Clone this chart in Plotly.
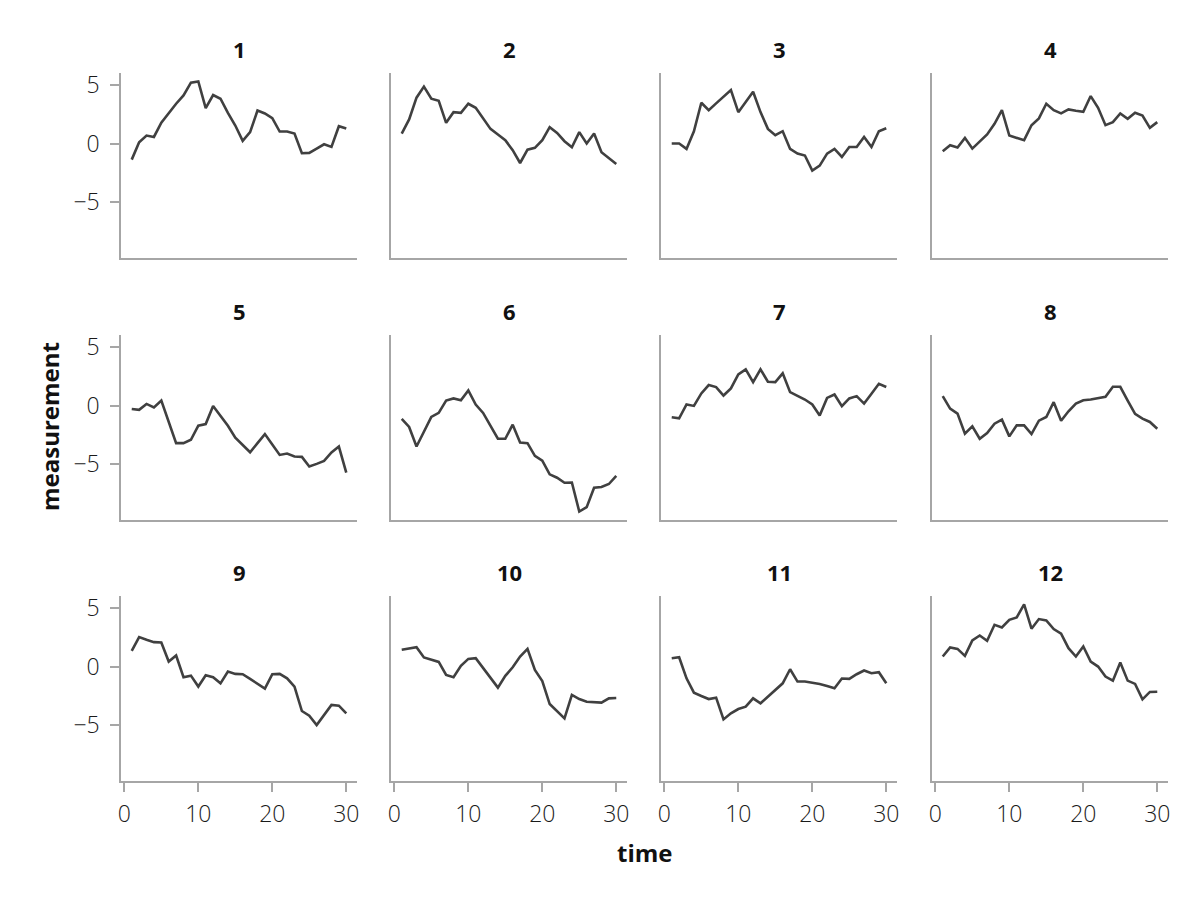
import plotly.graph_objects as go

time = list(range(1, 31))

s1 = [-1.38, 0.11, 0.69, 0.57, 1.8, 2.64, 3.42, 4.14, 5.23, 5.34, 3.05, 4.17, 3.85, 2.64, 1.55, 0.23, 0.98, 2.84, 2.59, 2.18, 1.03, 1.03, 0.86, -0.83, -0.80, -0.43, -0.06, -0.29, 1.49, 1.29]
s2 = [0.86, 2.07, 3.94, 4.89, 3.85, 3.68, 1.78, 2.70, 2.64, 3.42, 3.07, 2.21, 1.26, 0.78, 0.29, -0.57, -1.67, -0.52, -0.37, 0.29, 1.41, 0.92, 0.20, -0.32, 0.98, 0.0, 0.86, -0.75, -1.29, -1.75]
s3 = [0.0, 0.0, -0.46, 1.06, 3.51, 2.87, 3.45, 3.99, 4.60, 2.70, 3.59, 4.45, 2.70, 1.26, 0.72, 1.06, -0.46, -0.86, -1.03, -2.33, -1.90, -0.86, -0.46, -1.15, -0.29, -0.29, 0.57, -0.29, 1.06, 1.32]
s4 = [-0.66, -0.14, -0.34, 0.49, -0.43, 0.14, 0.78, 1.70, 2.87, 0.69, 0.49, 0.29, 1.58, 2.16, 3.42, 2.87, 2.59, 2.93, 2.82, 2.73, 4.08, 3.07, 1.58, 1.84, 2.59, 2.13, 2.64, 2.41, 1.35, 1.84]
s5 = [-0.29, -0.37, 0.14, -0.17, 0.43, -1.50, -3.23, -3.23, -2.94, -1.73, -1.59, -0.03, -0.92, -1.73, -2.77, -3.37, -4.01, -3.23, -2.45, -3.34, -4.24, -4.12, -4.38, -4.41, -5.24, -5.01, -4.76, -4.03, -3.52, -5.76]
s6 = [-1.15, -1.84, -3.52, -2.22, -0.98, -0.63, 0.43, 0.61, 0.46, 1.30, 0.09, -0.63, -1.73, -2.85, -2.85, -1.64, -3.17, -3.23, -4.32, -4.73, -5.91, -6.20, -6.63, -6.61, -9.11, -8.73, -7.06, -7.00, -6.74, -6.05]
s7 = [-1.01, -1.10, 0.09, -0.03, 1.04, 1.76, 1.59, 0.86, 1.47, 2.68, 3.11, 2.02, 3.11, 2.05, 2.02, 2.77, 1.15, 0.81, 0.52, 0.09, -0.86, 0.66, 0.95, -0.06, 0.61, 0.81, 0.17, 1.01, 1.87, 1.59]
s8 = [0.81, -0.26, -0.69, -2.42, -1.79, -2.85, -2.36, -1.56, -1.21, -2.65, -1.70, -1.70, -2.45, -1.30, -0.98, 0.29, -1.30, -0.49, 0.17, 0.46, 0.52, 0.63, 0.75, 1.61, 1.61, 0.43, -0.72, -1.12, -1.41, -1.99]
s9 = [1.35, 2.53, 2.30, 2.10, 2.07, 0.43, 0.95, -0.92, -0.78, -1.72, -0.75, -0.92, -1.44, -0.43, -0.63, -0.66, -1.06, -1.49, -1.90, -0.66, -0.63, -1.01, -1.72, -3.82, -4.22, -5.03, -4.17, -3.30, -3.36, -4.02]
s10 = [1.44, 1.58, 1.67, 0.78, 0.57, 0.40, -0.72, -0.92, 0.06, 0.66, 0.72, -0.14, -1.01, -1.81, -0.80, -0.06, 0.86, 1.52, -0.29, -1.24, -3.22, -3.82, -4.45, -2.44, -2.79, -3.02, -3.05, -3.10, -2.73, -2.70]
s11 = [0.72, 0.80, -1.01, -2.24, -2.53, -2.79, -2.67, -4.54, -4.02, -3.65, -3.45, -2.73, -3.16, -2.59, -2.01, -1.44, -0.23, -1.29, -1.29, -1.38, -1.49, -1.67, -1.87, -1.03, -1.06, -0.66, -0.34, -0.57, -0.49, -1.44]
s12 = [0.86, 1.64, 1.52, 0.92, 2.24, 2.67, 2.21, 3.59, 3.36, 4.02, 4.22, 5.34, 3.25, 4.08, 3.97, 3.22, 2.82, 1.58, 0.86, 1.72, 0.43, 0.0, -0.86, -1.21, 0.34, -1.21, -1.49, -2.82, -2.18, -2.16]

series = [s1, s2, s3, s4, s5, s6, s7, s8, s9, s10, s11, s12]
panel_titles = [str(i) for i in range(1, 13)]
y_tickvals = [-5, 0, 5]
x_tickvals = [0, 10, 20, 30]

FONT = "Open Sans"
W, H = 1200, 900
OFF = 8  # page body margin compensation
col_left = [121 - OFF, 391 - OFF, 661 - OFF, 932 - OFF]
panel_w = 236
row_top = [73 - OFF, 335 - OFF, 596 - OFF]
panel_h = 185

# shared ranges with 5% margins
ally = [v for s in series for v in s]
ymin, ymax = min(ally), max(ally)
ypad = 0.05 * (ymax - ymin)
yr = [ymin - ypad, ymax + ypad]
xpad = 0.05 * (max(time) - min(time))
xr = [min(time) - xpad, max(time) + xpad]

fig = go.Figure()
layout = {}
annotations = []
axis_color = "#a6a6a6"
tick_font = dict(family=FONT, size=23, color="#1a1a1a", weight=300)
panel_title_font = dict(family=FONT, size=22, color="#111111")
axis_title_font = dict(family=FONT, size=24, color="#111111")
for i, s in enumerate(series):
    r, c = divmod(i, 4)
    k = "" if i == 0 else str(i + 1)
    fig.add_trace(go.Scatter(x=time, y=s, mode="lines",
                             line=dict(color="#404040", width=2.6),
                             xaxis="x" + k, yaxis="y" + k, showlegend=False,
                             hoverinfo="skip"))
    x0 = col_left[c] / W
    x1 = (col_left[c] + panel_w) / W
    y1 = 1 - row_top[r] / H
    y0 = 1 - (row_top[r] + panel_h) / H
    show_x = (r == 2)
    show_y = (c == 0)
    layout["xaxis" + k] = dict(
        domain=[x0, x1], anchor="y" + k, range=xr, automargin=False,
        showgrid=False, zeroline=False, showline=True,
        linecolor=axis_color, linewidth=1.5,
        tickvals=x_tickvals if show_x else [],
        ticks="outside" if show_x else "", ticklen=9, tickwidth=1.5,
        tickcolor=axis_color, showticklabels=show_x,
        tickfont=tick_font, ticklabelstandoff=3,
    )
    layout["yaxis" + k] = dict(
        domain=[y0, y1], anchor="x" + k, range=yr, automargin=False,
        showgrid=False, zeroline=False, showline=True,
        linecolor=axis_color, linewidth=1.5,
        tickvals=y_tickvals if show_y else [],
        ticks="outside" if show_y else "", ticklen=9, tickwidth=1.5,
        tickcolor=axis_color, showticklabels=show_y,
        tickfont=tick_font, ticklabelstandoff=6,
    )
    annotations.append(dict(
        text="<b>" + panel_titles[i] + "</b>", xref="paper", yref="paper",
        x=(x0 + x1) / 2, y=1 - (row_top[r] - 24) / H,
        xanchor="center", yanchor="middle",
        showarrow=False, font=panel_title_font))

annotations.append(dict(text="<b>time</b>", xref="paper", yref="paper",
                        x=(644.5 - OFF) / W, y=1 - (852 - OFF) / H,
                        xanchor="center", yanchor="middle",
                        showarrow=False, font=axis_title_font))
annotations.append(dict(text="<b>measurement</b>", xref="paper", yref="paper",
                        x=(50 - OFF) / W, y=1 - (427 - OFF) / H,
                        xanchor="center", yanchor="middle",
                        textangle=-90, showarrow=False, font=axis_title_font))

fig.update_layout(**layout)
fig.update_layout(width=W, height=H, margin=dict(l=0, r=0, t=0, b=0, autoexpand=False),
                  plot_bgcolor="white", paper_bgcolor="white",
                  annotations=annotations, font=dict(family=FONT))
fig.write_html("out.html")
